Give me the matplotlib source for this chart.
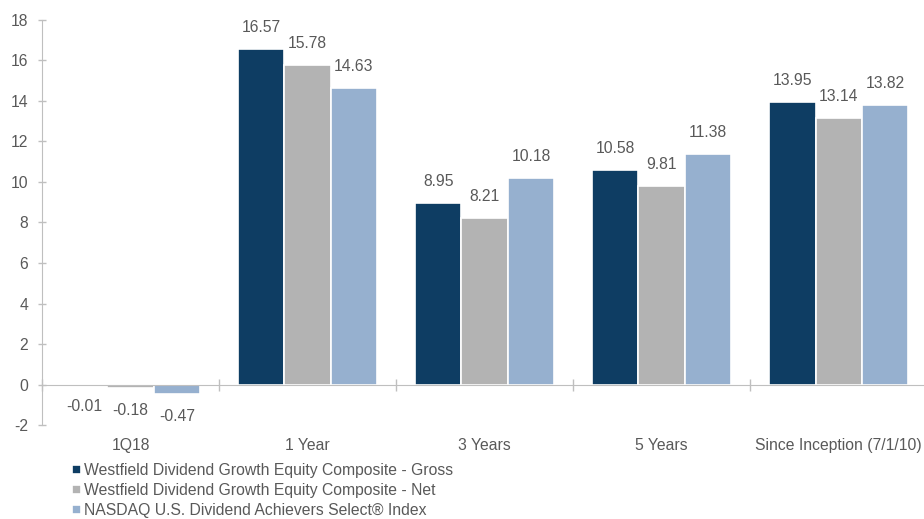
import matplotlib
matplotlib.use("Agg")
import matplotlib.pyplot as plt
import numpy as np

plt.rcParams['font.family'] = ['Liberation Sans', 'DejaVu Sans']
plt.rcParams['axes.unicode_minus'] = False

categories = ["1Q18", "1 Year", "3 Years", "5 Years", "Since Inception (7/1/10)"]
series_names = [
    "Westfield Dividend Growth Equity Composite - Gross",
    "Westfield Dividend Growth Equity Composite - Net",
    "NASDAQ U.S. Dividend Achievers Select\u00ae Index",
]
gross = [-0.01, 16.57, 8.95, 10.58, 13.95]
net = [-0.18, 15.78, 8.21, 9.81, 13.14]
index = [-0.47, 14.63, 10.18, 11.38, 13.82]
y_ticks = [-2, 0, 2, 4, 6, 8, 10, 12, 14, 16, 18]

colors = ["#0E3D63", "#B3B3B3", "#96B0CF"]
text_color = "#595959"
axis_color = "#BFBFBF"
fs = 11.3

fig = plt.figure(figsize=(9.24, 5.19), dpi=100)
ax = fig.add_axes([0.0455, 0.1811, 0.958, 0.7804])

x = np.arange(len(categories))
width = 0.262
offsets = [-width, 0, width]
for vals, off, col, name in zip([gross, net, index], offsets, colors, series_names):
    bars = ax.bar(x + off, vals, width, color=col, edgecolor="white",
                  linewidth=1.2, label=name, zorder=2)
    for b, v in zip(bars, vals):
        dy = 15.5 if v >= 0 else -16
        ax.annotate(f"{v:.2f}", (b.get_x() + b.get_width() / 2, v),
                    xytext=(0, dy), textcoords="offset points",
                    ha="center", va="center", fontsize=fs, color=text_color)

ax.set_xlim(-0.5, len(categories) - 0.5)
ax.set_ylim(-2, 18)
ax.set_yticks(y_ticks)
ax.tick_params(axis="y", colors=axis_color, labelcolor=text_color,
               labelsize=fs, length=6, width=1, direction="inout", pad=7)

for s in ["top", "right"]:
    ax.spines[s].set_visible(False)
ax.spines["left"].set_color(axis_color)
ax.spines["bottom"].set_color(axis_color)
ax.spines["bottom"].set_position(("data", 0))
ax.spines["bottom"].set_zorder(3)

ax.set_xticks(x)
ax.set_xticklabels(categories)
ax.set_xticks(np.arange(len(categories) + 1) - 0.5, minor=True)
ax.tick_params(axis="x", which="major", length=0, labelsize=fs,
               labelcolor=text_color, pad=38.5)
ax.tick_params(axis="x", which="minor", length=8, width=1,
               direction="inout", color=axis_color)

leg = fig.legend(loc="upper left", bbox_to_anchor=(0.078, 0.108),
                 frameon=False, fontsize=fs, handlelength=0.55,
                 handleheight=0.55, handletextpad=0.2, labelspacing=0.33,
                 borderaxespad=0, borderpad=0)
for t in leg.get_texts():
    t.set_color(text_color)

fig.savefig("out.png", dpi=100)
